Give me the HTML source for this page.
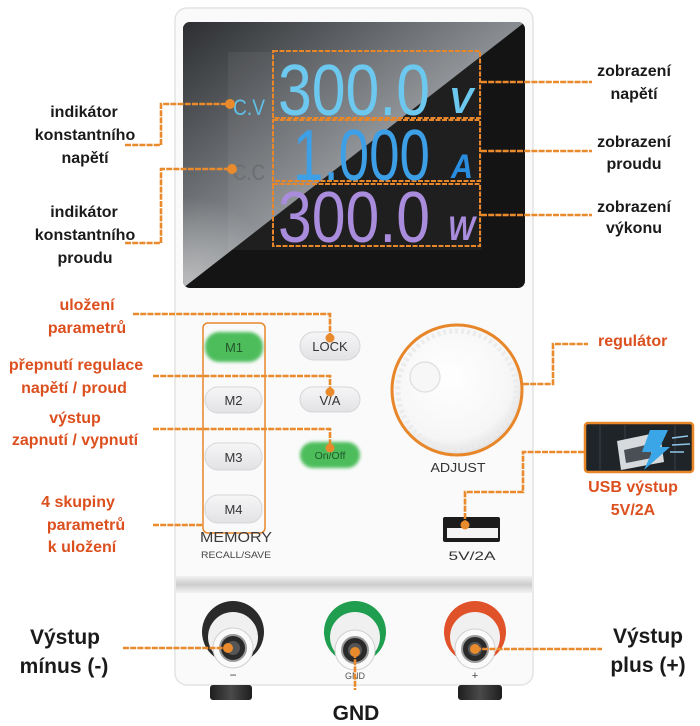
<!DOCTYPE html>
<html><head><meta charset="utf-8"><style>
html,body{margin:0;padding:0;background:#fff;}
svg{display:block;}
text{font-family:"Liberation Sans",sans-serif;}
</style></head><body>
<svg width="700" height="726" viewBox="0 0 700 726" xmlns="http://www.w3.org/2000/svg">
<defs>
<linearGradient id="tri" gradientUnits="userSpaceOnUse" x1="183" y1="22" x2="312" y2="188">
<stop offset="0" stop-color="#2c2e31"/><stop offset="1" stop-color="#8a8e92"/></linearGradient>
<radialGradient id="bl" gradientUnits="userSpaceOnUse" cx="186" cy="286" r="90">
<stop offset="0" stop-color="#d0d0d0" stop-opacity="0.7"/><stop offset="1" stop-color="#d0d0d0" stop-opacity="0"/></radialGradient>
<linearGradient id="band" x1="0" y1="0" x2="0" y2="1">
<stop offset="0" stop-color="#f2f2f2"/><stop offset="0.5" stop-color="#cdcdcd"/><stop offset="1" stop-color="#f3f3f3"/></linearGradient>
<radialGradient id="knob" cx="0.45" cy="0.4" r="0.6">
<stop offset="0" stop-color="#ffffff"/><stop offset="0.8" stop-color="#f6f6f6"/><stop offset="1" stop-color="#e2e2e2"/></radialGradient>
<linearGradient id="foot" x1="0" y1="0" x2="1" y2="0">
<stop offset="0" stop-color="#1e1e1e"/><stop offset="0.5" stop-color="#4a4a4a"/><stop offset="1" stop-color="#1e1e1e"/></linearGradient>
<linearGradient id="btn" x1="0" y1="0" x2="0" y2="1">
<stop offset="0" stop-color="#f6f6f7"/><stop offset="1" stop-color="#e2e2e5"/></linearGradient>
<filter id="blur" x="-20%" y="-40%" width="140%" height="180%"><feGaussianBlur stdDeviation="1.6"/></filter>
<clipPath id="disp"><rect x="183" y="22" width="342" height="266" rx="7"/></clipPath>
<clipPath id="trc"><polygon points="183,22 525,22 183,288"/></clipPath>
</defs>

<!-- body -->
<rect x="175" y="8" width="358" height="677" rx="12" fill="#fafafa" stroke="#e3e3e3" stroke-width="1.5"/>
<rect x="176" y="576" width="356" height="17" fill="url(#band)"/>

<!-- display -->
<rect x="183" y="22" width="342" height="266" rx="7" fill="#141414"/>
<g clip-path="url(#disp)">
<polygon points="183,22 525,22 183,288" fill="url(#tri)"/>
<rect x="183" y="150" width="120" height="140" fill="url(#bl)" clip-path="url(#trc)"/>
<rect x="228" y="52" width="254" height="198" fill="#ffffff" opacity="0.05"/>
</g>

<!-- display boxes -->
<g fill="none" stroke="#e8862a" stroke-width="2" stroke-dasharray="5 1.5">
<rect x="273" y="51" width="207" height="67"/>
<rect x="273" y="120" width="207" height="61"/>
<rect x="273" y="184" width="207" height="62"/>
</g>

<!-- digits -->
<text x="278" y="115" font-size="72" fill="#6cc8ee" textLength="152" lengthAdjust="spacingAndGlyphs">300.0</text>
<text x="293" y="180" font-size="72" fill="#3d9fe6" textLength="137" lengthAdjust="spacingAndGlyphs">1.000</text>
<text x="278" y="242" font-size="72" fill="#a98cdc" textLength="152" lengthAdjust="spacingAndGlyphs">300.0</text>
<text x="449" y="113" font-size="36" font-weight="bold" font-style="italic" fill="#6cc8ee" textLength="24" lengthAdjust="spacingAndGlyphs">V</text>
<text x="451" y="178" font-size="34" font-weight="bold" font-style="italic" fill="#2a8ee0" textLength="22" lengthAdjust="spacingAndGlyphs">A</text>
<text x="448" y="240" font-size="34" font-weight="bold" font-style="italic" fill="#a98cdc" textLength="27" lengthAdjust="spacingAndGlyphs">W</text>
<text x="233" y="115" font-size="22" fill="#5fc0e8" textLength="32" lengthAdjust="spacingAndGlyphs">C.V</text>
<text x="233" y="180" font-size="22" fill="#6b6e71" textLength="32" lengthAdjust="spacingAndGlyphs">C.C</text>

<!-- memory group outline -->
<rect x="203" y="323" width="62" height="210" rx="5" fill="none" stroke="#e8862a" stroke-width="1.5"/>

<!-- buttons -->
<rect x="205" y="332" width="58" height="30" rx="14" fill="#4dbd5c" filter="url(#blur)"/>
<text x="234" y="352" font-size="13" fill="#24562c" text-anchor="middle">M1</text>
<rect x="205" y="387" width="57" height="26" rx="13" fill="url(#btn)" stroke="#d6d6d9"/>
<text x="233.5" y="405" font-size="13" fill="#333" text-anchor="middle">M2</text>
<rect x="205" y="443" width="57" height="27" rx="13" fill="url(#btn)" stroke="#d6d6d9"/>
<text x="233.5" y="462" font-size="13" fill="#333" text-anchor="middle">M3</text>
<rect x="205" y="495" width="57" height="28" rx="13" fill="url(#btn)" stroke="#d6d6d9"/>
<text x="233.5" y="514" font-size="13" fill="#333" text-anchor="middle">M4</text>
<rect x="300" y="332" width="60" height="28" rx="14" fill="url(#btn)" stroke="#d6d6d9"/>
<text x="330" y="351" font-size="13" fill="#333" text-anchor="middle">LOCK</text>
<rect x="300" y="387" width="60" height="25" rx="12.5" fill="url(#btn)" stroke="#d6d6d9"/>
<text x="330" y="405" font-size="13" fill="#333" text-anchor="middle">V/A</text>
<rect x="300" y="442" width="60" height="26" rx="13" fill="#4dbd5c" filter="url(#blur)"/>
<text x="330" y="459" font-size="10.5" fill="#1f5a2a" text-anchor="middle">On/Off</text>

<text x="236" y="542" font-size="15" fill="#3a3a3a" text-anchor="middle" textLength="72" lengthAdjust="spacingAndGlyphs">MEMORY</text>
<text x="236" y="558" font-size="9.5" fill="#444" text-anchor="middle" textLength="70" lengthAdjust="spacingAndGlyphs">RECALL/SAVE</text>

<!-- knob -->
<circle cx="457" cy="390" r="65" fill="url(#knob)"/>
<circle cx="457" cy="390" r="59" fill="none" stroke="#ececec" stroke-width="5" stroke-dasharray="3 3"/>
<circle cx="457" cy="390" r="65" fill="none" stroke="#e8862a" stroke-width="3"/>
<circle cx="425" cy="377" r="15" fill="#f7f7f7" stroke="#dedede" stroke-width="1.2"/>
<text x="458" y="472" font-size="13" fill="#333" text-anchor="middle" textLength="55" lengthAdjust="spacingAndGlyphs">ADJUST</text>

<!-- usb port -->
<rect x="443" y="517" width="57" height="25" rx="2" fill="#1c1c1c"/>
<rect x="447" y="528" width="51" height="10" fill="#f4f4f4"/>
<text x="472" y="560" font-size="12" fill="#333" text-anchor="middle" textLength="47" lengthAdjust="spacingAndGlyphs">5V/2A</text>

<!-- usb icon -->
<rect x="585" y="423" width="108" height="49" rx="3" fill="#1f2428" stroke="#e8862a" stroke-width="2.5"/>
<g stroke="#3a4148" stroke-width="1"><line x1="600" y1="425" x2="600" y2="470"/><line x1="625" y1="425" x2="625" y2="470"/><line x1="675" y1="425" x2="675" y2="470"/></g>
<polygon points="617,441 660,432 664,462 621,470" fill="#d6dadd"/>
<polygon points="624,450 650,444 652,458 626,463" fill="#4a4f55"/>
<polygon points="650,430 668,430 660,447 670,447 644,470 652,452 642,452" fill="#3aa6e8"/>
<g stroke="#8fc7e8" stroke-width="1.5"><line x1="672" y1="438" x2="688" y2="436"/><line x1="672" y1="445" x2="690" y2="444"/><line x1="670" y1="452" x2="684" y2="452"/></g>

<!-- terminals -->
<g>
<circle cx="233" cy="632" r="31" fill="#2a2a2a"/>
<circle cx="233" cy="637" r="25" fill="#f0f0f0"/>
<circle cx="233" cy="648" r="20" fill="#fafafa" stroke="#d0d0d0"/>
<circle cx="233" cy="648" r="13" fill="#2a2a2a" stroke="#9a9a9a" stroke-width="2"/>
<circle cx="233" cy="648" r="7" fill="#555"/>
<text x="233" y="679" font-size="12" fill="#444" text-anchor="middle">−</text>

<circle cx="355" cy="632" r="31" fill="#1e9e4e"/>
<circle cx="355" cy="637" r="25" fill="#f0f0f0"/>
<circle cx="355" cy="650" r="20" fill="#fafafa" stroke="#d0d0d0"/>
<circle cx="355" cy="650" r="13" fill="#2a2a2a" stroke="#9a9a9a" stroke-width="2"/>
<circle cx="355" cy="650" r="7" fill="#555"/>
<text x="355" y="679" font-size="9" fill="#555" text-anchor="middle">GND</text>

<circle cx="475" cy="632" r="31" fill="#e0522a"/>
<circle cx="475" cy="637" r="25" fill="#f0f0f0"/>
<circle cx="475" cy="649" r="20" fill="#fafafa" stroke="#d0d0d0"/>
<circle cx="475" cy="649" r="13" fill="#2a2a2a" stroke="#9a9a9a" stroke-width="2"/>
<circle cx="475" cy="649" r="7" fill="#555"/>
<text x="475" y="679" font-size="11" fill="#444" text-anchor="middle">+</text>
</g>

<!-- feet -->
<rect x="210" y="685" width="42" height="15" rx="3" fill="url(#foot)"/>
<rect x="458" y="685" width="44" height="15" rx="3" fill="url(#foot)"/>

<!-- connectors -->
<g fill="none" stroke="#e98a2d" stroke-width="2.6" stroke-dasharray="6 1.2">
<polyline points="125,145 161,145 161,104 230,104"/>
<polyline points="125,243 161,243 161,169 232,169"/>
<polyline points="481,82 592,82"/>
<polyline points="481,151 592,151"/>
<polyline points="481,215 592,215"/>
<polyline points="133,314 330,314 330,338"/>
<polyline points="153,376 330,376 330,392"/>
<polyline points="153,429 330,429 330,448"/>
<polyline points="153,525 203,525"/>
<polyline points="523,384 553,384 553,344 588,344"/>
<polyline points="584,452 523,452 523,492 465,492 465,525"/>
<polyline points="123,648 228,648"/>
<polyline points="355,652 355,690"/>
<polyline points="475,649 602,649"/>
</g>
<g fill="#e98a2d">
<circle cx="230" cy="104" r="5"/><circle cx="232" cy="169" r="5"/>
<circle cx="330" cy="338" r="4.5"/><circle cx="330" cy="392" r="4.5"/><circle cx="330" cy="448" r="4.5"/>
<circle cx="465" cy="525" r="4.5"/>
<circle cx="228" cy="648" r="5"/><circle cx="355" cy="652" r="5"/><circle cx="475" cy="649" r="5"/>
</g>

<!-- black labels -->
<g font-size="16" font-weight="bold" fill="#1a1a1a" text-anchor="middle">
<text x="84" y="117">indikátor</text>
<text x="85" y="140">konstantního</text>
<text x="85" y="163">napětí</text>
<text x="84" y="217">indikátor</text>
<text x="85" y="240">konstantního</text>
<text x="85" y="263">proudu</text>
<text x="634" y="76">zobrazení</text>
<text x="634" y="99">napětí</text>
<text x="634" y="147">zobrazení</text>
<text x="634" y="169">proudu</text>
<text x="634" y="212">zobrazení</text>
<text x="634" y="233">výkonu</text>
</g>
<g font-size="21" font-weight="bold" fill="#1a1a1a" text-anchor="middle">
<text x="65" y="644">Výstup</text>
<text x="64" y="673">mínus (-)</text>
<text x="648" y="643">Výstup</text>
<text x="648" y="672">plus (+)</text>
<text x="356" y="720">GND</text>
</g>

<!-- orange labels -->
<g font-size="16" font-weight="bold" fill="#dc4f1e" text-anchor="middle">
<text x="87" y="310">uložení</text>
<text x="87" y="333">parametrů</text>
<text x="76" y="370">přepnutí regulace</text>
<text x="74" y="393">napětí / proud</text>
<text x="75" y="423">výstup</text>
<text x="75" y="445">zapnutí / vypnutí</text>
<text x="78" y="507">4 skupiny</text>
<text x="86" y="530">parametrů</text>
<text x="82" y="552">k uložení</text>
<text x="633" y="492">USB výstup</text>
<text x="633" y="515">5V/2A</text>
<text x="598" y="346" text-anchor="start">regulátor</text>
</g>
</svg>
</body></html>
